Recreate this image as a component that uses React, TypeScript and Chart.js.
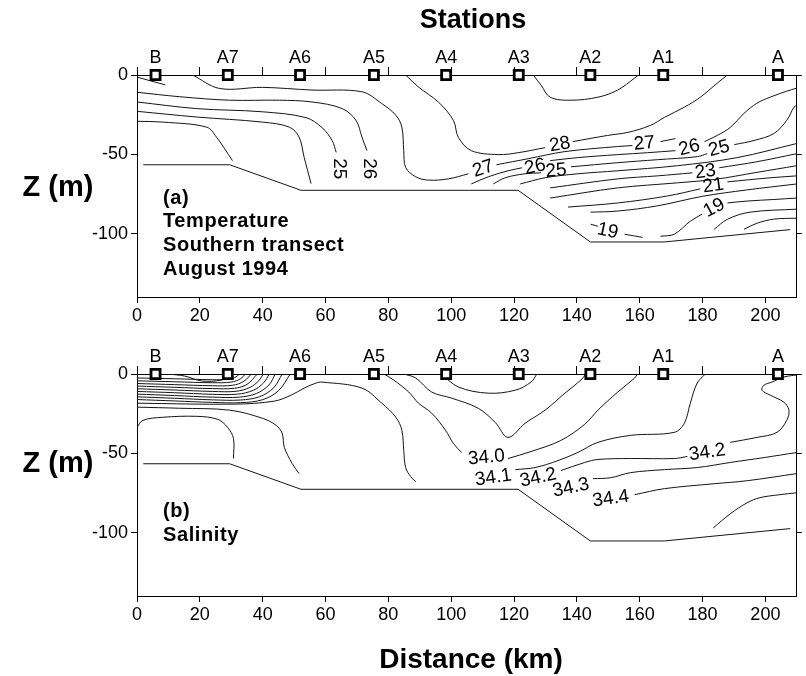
import React, { useEffect, useRef } from 'react';
import { Chart, registerables } from 'chart.js';
Chart.register(...registerables);

type Pt = [number, number];

const FONT = "'Liberation Sans', Arial, Helvetica, sans-serif";

// ---- axes ----
const distanceMin = 0;
const distanceMax = 210;
const distanceTicks = [0, 20, 40, 60, 80, 100, 120, 140, 160, 180, 200];
const depthMin = -140;
const depthMax = 0;
const depthTicks = [-100, -50, 0];

// ---- stations ----
const stationNames = ['B', 'A7', 'A6', 'A5', 'A4', 'A3', 'A2', 'A1', 'A'];
const stationKm = [5.9, 28.9, 51.9, 75.4, 98.4, 121.5, 144.3, 167.5, 204.0];

// ---- bottom profile ----
const bottomKm = [2.0, 29.5, 52.2, 121.3, 144.3, 167.8, 207.9];
const bottomDepth = [-56.6, -56.6, -72.7, -72.7, -105.3, -105.3, -97.5];

// ---- temperature contours (km, depth m) ----
const tShallow: Pt[] = [[0, -1.3], [4.5, -3.8], [9, -6.2]];
const t27a: Pt[] = [[17.7, 0], [26.3, -8.5], [39.9, -7.8], [55.7, -9.5], [71.6, -10.6], [77.9, -18.0], [82.4, -25.4], [84.3, -32.9], [84.9, -47.7], [85.5, -58.3], [88.7, -64.2], [92.8, -66.3], [99.1, -65.5], [105.5, -62.3]];
const t26a: Pt[] = [[0, -10.9], [13.6, -13.7], [29.5, -15.9], [45.3, -15.9], [55.7, -17.0], [65.3, -21.2], [69.7, -28.6], [71.6, -39.2], [73.2, -47.7]];
const t25a: Pt[] = [[0, -17.0], [19.0, -21.2], [39.9, -23.2], [53.8, -26.9], [58.9, -33.2], [62.1, -41.3], [63.4, -48.8]];
const t24a: Pt[] = [[0, -22.9], [19.0, -26.5], [39.9, -29.7], [48.5, -32.9], [51.6, -39.2], [53.2, -51.9], [55.4, -68.5]];
const t23a: Pt[] = [[0, -29.2], [8.2, -29.7], [22.2, -32.9], [25.3, -39.2], [30.4, -54.0]];
const t29: Pt[] = [[126.1, 0], [128.6, -6.4], [131.5, -14.0], [138.1, -15.9], [146.7, -14.0], [153.0, -9.5], [158.4, -1.9], [159.6, 0]];
const t28a: Pt[] = [[85.5, 0], [89.6, -7.6], [96.0, -17.2], [100.7, -28.6], [102.3, -39.4], [106.4, -47.7], [115.0, -50.2], [121.3, -49.0], [129.9, -45.8]];
const t28b: Pt[] = [[138.7, -42.0], [149.8, -38.1], [156.2, -36.2], [163.4, -31.8], [167.9, -26.7], [174.2, -20.3], [179.3, -14.0], [184.7, -5.1], [187.9, 0]];
const t27b: Pt[] = [[114.4, -56.6], [124.5, -52.8], [136.2, -48.3], [153.0, -45.1], [157.7, -44.5]];
const t27c: Pt[] = [[166.6, -42.0], [171.4, -40.1]];
const t26b: Pt[] = [[106.4, -68.7], [111.8, -64.2], [118.1, -60.4], [122.6, -58.5]];
const t26c: Pt[] = [[131.5, -54.0], [140.3, -52.1], [153.0, -50.2], [162.5, -49.0], [171.4, -47.7]];
const t26d: Pt[] = [[180.6, -42.0], [184.7, -38.1], [188.8, -33.1], [193.2, -24.2], [197.3, -17.8], [201.5, -14.0], [206.8, -10.2], [210, -8.3]];
const t25b: Pt[] = [[113.4, -68.7], [117.2, -64.8], [123.5, -62.3], [128.6, -61.7]];
const t25c: Pt[] = [[138.1, -57.9], [153.0, -55.3], [165.7, -53.4], [178.3, -51.5], [181.5, -49.6]];
const t25d: Pt[] = [[190.1, -43.9], [196.4, -41.3], [202.7, -36.9], [206.8, -28.6], [209.1, -20.3], [210, -19.1]];
const t24b: Pt[] = [[122.0, -68.7], [129.9, -64.8], [140.3, -62.3], [153.0, -60.4], [172.0, -57.2], [191.0, -52.1], [210, -43.2]];
const t23b: Pt[] = [[131.5, -71.2], [153.0, -65.5], [165.7, -63.6], [176.8, -61.7]];
const t23c: Pt[] = [[185.3, -58.5], [197.3, -54.7], [210, -49.6]];
const t22: Pt[] = [[131.5, -77.6], [153.0, -71.2], [172.0, -68.0], [184.0, -65.8], [197.0, -61.5], [210, -57.2]];
const t21a: Pt[] = [[137.2, -83.3], [153.0, -80.7], [168.8, -76.3], [179.3, -71.8]];
const t21b: Pt[] = [[187.9, -67.4], [200.5, -65.0], [210, -63.6]];
const t20: Pt[] = [[144.4, -86.5], [153.0, -85.8], [165.7, -82.5], [180.0, -76.5], [194.0, -72.5], [210, -68.7]];
const t19a: Pt[] = [[144.4, -94.1], [146.7, -95.4]];
const t19b: Pt[] = [[155.2, -100.4], [160.9, -102.4]];
const t19c: Pt[] = [[166.6, -101.7], [171.0, -100.4], [176.1, -92.2], [179.9, -87.7]];
const t19d: Pt[] = [[187.9, -80.7], [194.2, -79.5], [202.7, -78.5], [210, -77.6]];
const t18a: Pt[] = [[183.7, -97.3], [187.9, -91.0], [195.1, -86.5], [210, -84.6]];
const t18b: Pt[] = [[193.2, -97.3], [197.3, -93.5], [202.7, -90.9], [210, -90.3]];

const tempSegments: Pt[][] = [tShallow, t27a, t26a, t25a, t24a, t23a, t29, t28a, t28b, t27b, t27c, t26b, t26c, t26d, t25b, t25c, t25d, t24b, t23b, t23c, t22, t21a, t21b, t20, t19a, t19b, t19c, t19d, t18a, t18b];

const tempLabelText = ['25', '26', '27', '26', '25', '28', '27', '26', '25', '23', '21', '19', '19'];
const tempLabelKm = [64.3, 73.8, 110.2, 126.7, 133.4, 134.6, 161.5, 175.8, 185.3, 180.9, 183.4, 183.7, 149.8];
const tempLabelDepth = [-59.1, -59.1, -59.1, -57.9, -60.4, -43.9, -43.2, -45.8, -46.4, -61.0, -69.9, -83.9, -98.5];
const tempLabelAngle = [90, 90, -18, -12, -5, -10, -5, -15, -15, -8, -8, -28, 12];

// ---- salinity contours (km, depth m) ----
const sB0: Pt[] = [[0, -2.5], [12, -3.0], [24, -3.6], [29.5, -3.3], [31.5, -1.8], [32.6, 0]];
const sB1: Pt[] = [[0, -4.3], [12, -4.9], [24, -5.5], [30, -5.1], [33, -3.0], [34.5, 0]];
const sB2: Pt[] = [[0, -6.0], [12, -6.7], [24, -7.4], [30.5, -7.1], [34, -4.6], [36.4, 0]];
const sB3: Pt[] = [[0, -7.6], [12, -8.4], [24, -9.2], [31, -9.0], [35, -6.6], [38.3, 0]];
const sB4: Pt[] = [[0, -9.3], [12, -10.1], [24, -11.0], [31.5, -10.9], [36, -8.4], [38.8, -4.2], [40.2, 0]];
const sB5: Pt[] = [[0, -11.0], [12, -11.8], [24, -12.8], [32, -12.7], [37, -10.3], [40.3, -5.6], [42.1, 0]];
const sB6: Pt[] = [[0, -12.7], [12, -13.6], [24, -14.6], [32.5, -14.6], [38, -12.3], [42, -6.9], [44.0, 0]];
const sB7: Pt[] = [[0, -14.4], [12, -15.3], [24, -16.3], [33, -16.4], [39, -14.3], [43.5, -8.7], [46.2, 0]];
const sB8: Pt[] = [[0, -16.1], [12, -17.0], [24, -17.9], [33, -18.1], [40, -16.2], [45, -10.6], [48.8, 0]];
const sSmallDome: Pt[] = [[9.8, 0], [15.2, -1.3], [20.6, -4.4], [26.9, -3.8], [30.1, 0]];
const sLong: Pt[] = [[0, -18.4], [31.0, -19.0], [43.7, -17.1], [49.1, -13.3], [53.2, -8.9], [57.0, -5.7], [58.9, -5.1], [71.6, -8.9], [77.9, -18.4], [82.4, -27.3], [84.3, -35.5], [84.9, -48.2], [85.5, -59.0], [87.1, -64.7], [88.7, -67.9]];
const sMid: Pt[] = [[0, -20.9], [13.6, -21.6], [29.5, -22.8], [39.9, -27.9], [44.3, -32.4], [46.2, -37.4], [46.9, -46.3], [49.4, -56.5], [51.6, -62.8]];
const sDome: Pt[] = [[0, -33.6], [1.9, -29.2], [8.2, -27.3], [19.0, -26.7], [25.7, -28.6], [28.8, -33.6], [30.7, -40.6], [30.7, -53.3]];
const sA4A3: Pt[] = [[96.9, 0], [102.3, -8.2], [111.8, -12.1], [120.4, -10.2], [125.4, -5.1], [127.3, 0]];
const sV: Pt[] = [[84.9, 0], [88.7, -2.5], [93.8, -11.4], [100.1, -15.2], [108.6, -21.6], [114.0, -30.5], [118.1, -40.0], [123.5, -31.1], [129.9, -22.8], [136.2, -12.1], [141.3, -3.8], [142.9, 0]];
const s340a: Pt[] = [[78.6, 0], [81.7, -3.8], [86.5, -11.4], [89.6, -18.4], [93.8, -24.7], [98.2, -35.5], [100.7, -43.8], [103.3, -49.5]];
const s340b: Pt[] = [[118.1, -53.3], [125.4, -48.9], [134.9, -41.9], [142.5, -31.7], [146.7, -22.8], [153.0, -11.4], [158.4, -2.5], [159.3, 0]];
const s341: Pt[] = [[120.4, -60.3], [126.7, -59.0], [134.0, -54.6], [140.3, -49.5], [146.7, -43.1], [157.1, -38.7], [171.0, -36.8], [174.2, -31.1], [176.1, -18.4], [178.3, -5.7], [180.9, 0]];
const s342a: Pt[] = [[134.9, -60.9], [142.5, -55.8], [146.7, -53.9], [157.1, -53.3], [171.0, -53.3], [175.2, -52.0]];
const s342b: Pt[] = [[188.8, -43.1], [197.3, -40.0], [203.7, -36.8], [206.8, -29.2], [207.5, -22.8], [205.9, -17.8], [201.5, -13.3], [198.9, -10.2], [199.6, -7.0], [202.1, -5.1], [205.9, -1.9], [210, -0.6]];
const s343: Pt[] = [[145.1, -66.0], [150.8, -65.4], [157.1, -62.2], [167.9, -60.3], [178.3, -59.0], [188.8, -55.8], [199.6, -52.7], [210, -49.5]];
const s344: Pt[] = [[158.4, -76.1], [167.9, -72.3], [183.7, -69.2], [194.2, -67.3], [210, -62.8]];
const s345: Pt[] = [[183.4, -97.1], [188.8, -88.2], [194.2, -81.2], [198.3, -78.0], [204.6, -76.1], [210, -74.9]];

const salSegments: Pt[][] = [sB0, sB1, sB2, sB3, sB4, sB5, sB6, sB7, sB8, sSmallDome, sLong, sMid, sDome, sA4A3, sV, s340a, s340b, s341, s342a, s342b, s343, s344, s345];

const salLabelText = ['34.0', '34.1', '34.2', '34.3', '34.4', '34.2'];
const salLabelKm = [111.2, 113.4, 127.7, 138.1, 150.8, 181.5];
const salLabelDepth = [-52.7, -65.4, -65.4, -71.7, -78.7, -49.5];
const salLabelAngle = [-5, -8, -12, -12, -8, -8];

type Labels = { text: string[]; km: number[]; depth: number[]; angle: number[] };

function makeConfig(segments: Pt[][], labels: Labels, topH: number, bottomH: number): any {
  const lineColor = '#151515';
  const datasets: any[] = [];
  datasets.push({
    data: stationKm.map((k) => ({ x: k, y: 0 })),
    showLine: false,
    pointStyle: 'rect',
    pointRadius: 6.4,
    pointBorderWidth: 2.8,
    pointBackgroundColor: '#ffffff',
    pointBorderColor: '#000000',
    clip: false,
  });
  datasets.push({
    data: bottomKm.map((k, i) => ({ x: k, y: bottomDepth[i] })),
    borderColor: lineColor,
    borderWidth: 1,
    pointRadius: 0,
    tension: 0,
    fill: false,
  });
  segments.forEach((seg) => {
    datasets.push({
      data: seg.map(([x, y]) => ({ x, y })),
      borderColor: lineColor,
      borderWidth: 1,
      pointRadius: 0,
      tension: 0.35,
      fill: false,
    });
  });

  const setX = (s: any) => {
    s.ticks = distanceTicks.map((v) => ({ value: v }));
  };
  const setY = (s: any) => {
    s.ticks = depthTicks.map((v) => ({ value: v }));
  };
  const grid = (len: number) => ({
    drawOnChartArea: false,
    drawTicks: true,
    tickLength: len,
    color: '#000',
    tickColor: '#000',
    lineWidth: 1,
  });
  const border = { display: true, color: '#000', width: 1 };

  const textPlugin = {
    id: 'contourText',
    afterDatasetsDraw(chart: any) {
      const { ctx, chartArea, scales } = chart;
      const xs = scales.x;
      const ys = scales.y;
      ctx.save();
      ctx.fillStyle = '#000';
      ctx.textAlign = 'center';
      ctx.textBaseline = 'middle';
      ctx.font = `18px ${FONT}`;
      stationNames.forEach((n, i) => {
        ctx.fillText(n, xs.getPixelForValue(stationKm[i]), chartArea.top - 17);
      });
      ctx.font = `19px ${FONT}`;
      labels.text.forEach((t, i) => {
        ctx.save();
        ctx.translate(xs.getPixelForValue(labels.km[i]), ys.getPixelForValue(labels.depth[i]));
        ctx.rotate((labels.angle[i] * Math.PI) / 180);
        ctx.fillText(t, 0, 0);
        ctx.restore();
      });
      ctx.restore();
    },
  };

  return {
    type: 'line',
    data: { datasets },
    options: {
      responsive: false,
      animation: false,
      devicePixelRatio: 1,
      layout: { padding: 0 },
      plugins: { legend: { display: false }, tooltip: { enabled: false } },
      scales: {
        x: {
          type: 'linear',
          position: 'bottom',
          min: distanceMin,
          max: distanceMax,
          ticks: { color: '#000', font: { family: FONT, size: 18 }, maxRotation: 0, autoSkip: false, padding: 2 },
          grid: grid(6),
          border,
          afterBuildTicks: setX,
          afterFit: (s: any) => {
            s.height = bottomH;
          },
        },
        x2: {
          type: 'linear',
          position: 'top',
          min: distanceMin,
          max: distanceMax,
          ticks: { display: false, autoSkip: false },
          grid: grid(8),
          border,
          afterBuildTicks: setX,
          afterFit: (s: any) => {
            s.height = topH;
          },
        },
        y: {
          type: 'linear',
          position: 'left',
          min: depthMin,
          max: depthMax,
          ticks: { color: '#000', font: { family: FONT, size: 18 }, padding: 3, autoSkip: false },
          grid: grid(6),
          border,
          afterBuildTicks: setY,
          afterFit: (s: any) => {
            s.width = 137;
          },
        },
        y2: {
          type: 'linear',
          position: 'right',
          min: depthMin,
          max: depthMax,
          ticks: { display: false, autoSkip: false },
          grid: grid(5),
          border,
          afterBuildTicks: setY,
          afterFit: (s: any) => {
            s.width = 6;
          },
        },
      },
    },
    plugins: [textPlugin],
  };
}

function Panel(props: { segments: Pt[][]; labels: Labels; top: number; height: number; topH: number; bottomH: number }) {
  const ref = useRef<HTMLCanvasElement>(null);
  useEffect(() => {
    const chart = new Chart(ref.current as HTMLCanvasElement, makeConfig(props.segments, props.labels, props.topH, props.bottomH));
    return () => chart.destroy();
  }, []);
  return (
    <canvas
      ref={ref}
      width={806}
      height={props.height}
      style={{ position: 'absolute', left: 0, top: props.top, width: 806, height: props.height }}
    />
  );
}

const txt = (s: string, x: number, y: number, size: number, bold: boolean, center: boolean, ls = 0) => (
  <div
    key={s + y}
    style={{
      position: 'absolute',
      left: x,
      top: y,
      transform: center ? 'translate(-50%, -50%)' : 'translate(0, -50%)',
      font: `${bold ? 'bold ' : ''}${size}px ${FONT}`,
      lineHeight: 1,
      whiteSpace: 'nowrap',
      letterSpacing: ls,
      color: '#000',
    }}
  >
    {s}
  </div>
);

export default function App() {
  return (
    <div style={{ position: 'absolute', left: 0, top: 0, width: 806, height: 676, background: '#fff', overflow: 'hidden' }}>
      <Panel
        segments={tempSegments}
        labels={{ text: tempLabelText, km: tempLabelKm, depth: tempLabelDepth, angle: tempLabelAngle }}
        top={0}
        height={340}
        topH={75}
        bottomH={43}
      />
      <Panel
        segments={salSegments}
        labels={{ text: salLabelText, km: salLabelKm, depth: salLabelDepth, angle: salLabelAngle }}
        top={340}
        height={336}
        topH={34}
        bottomH={80}
      />
      {txt('Stations', 473, 19, 27, true, true)}
      {txt('Z (m)', 58, 186, 29, true, true)}
      {txt('Z (m)', 58, 462, 29, true, true)}
      {txt('Distance (km)', 471, 659, 28, true, true)}
      {txt('(a)', 163, 197, 20, true, false, 0.6)}
      {txt('Temperature', 163, 220, 20, true, false, 0.6)}
      {txt('Southern transect', 163, 244, 20, true, false, 0.6)}
      {txt('August 1994', 163, 268, 20, true, false, 0.6)}
      {txt('(b)', 163, 510, 20, true, false, 0.6)}
      {txt('Salinity', 163, 534, 20, true, false, 0.6)}
    </div>
  );
}
